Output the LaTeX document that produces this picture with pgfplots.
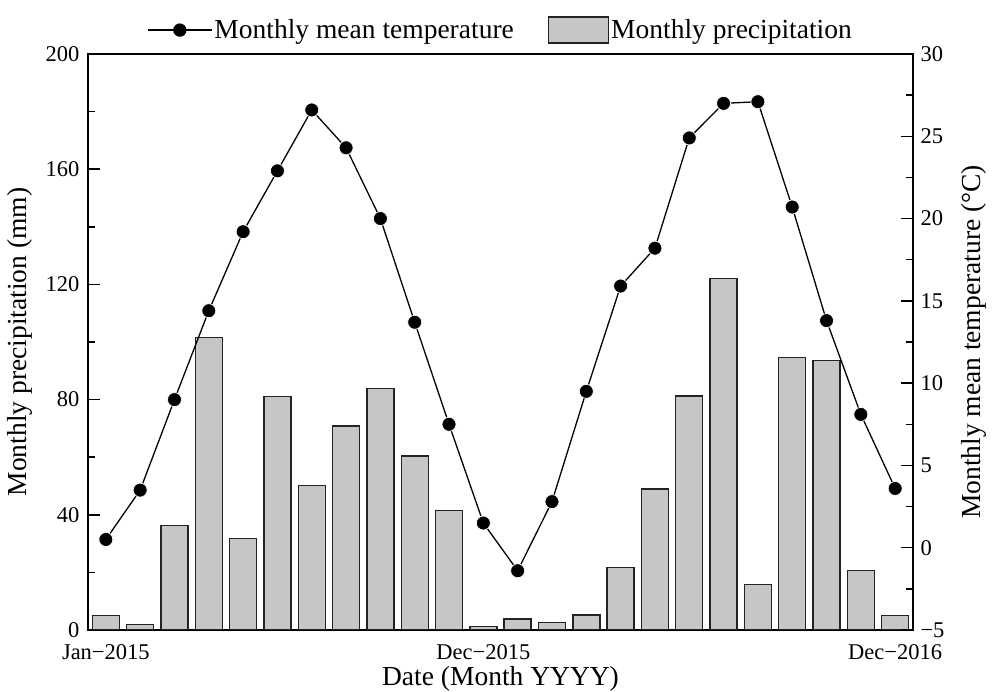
\documentclass[border=0pt]{standalone}
\usepackage{fontspec}
\setmainfont{Liberation Serif}
\usepackage{pgfplots}
\usepackage{pgfplotstable}
\pgfplotsset{compat=1.18}

\definecolor{barfill}{RGB}{198,198,198}
\definecolor{baredge}{RGB}{35,35,35}

% month index, precipitation (mm), mean temperature (deg C)
\pgfplotstableread{
m  prec   temp
0  5.1    0.5
1  1.9    3.5
2  36.2   9.0
3  101.6  14.4
4  31.8   19.2
5  81.0   22.9
6  50.1   26.6
7  70.9   24.3
8  83.8   20.0
9  60.4   13.7
10 41.4   7.5
11 1.3    1.5
12 3.8    -1.4
13 2.7    2.8
14 5.2    9.5
15 21.6   15.9
16 49.0   18.2
17 81.3   24.9
18 122.1  27.0
19 15.9   27.1
20 94.6   20.7
21 93.5   13.8
22 20.7   8.1
23 5.0    3.6
}\climate

\newcommand{\labelfont}{\fontsize{27.5}{31}\selectfont}
\newcommand{\tickfont}{\fontsize{22.5}{25}\selectfont}
\newcommand{\xtickfont}{\fontsize{22.5}{25}\selectfont}

\begin{document}
\begin{tikzpicture}
\pgfplotsset{
  base/.style={
    width=825pt, height=576pt, scale only axis,
    xmin=-0.52, xmax=23.52,
    axis line style={line width=1.6pt, black},
    major tick length=12pt, minor tick length=7pt,
    /pgf/number format/assume math mode=true,
    yticklabel style={font=\tickfont},
    xticklabel style={font=\xtickfont, yshift=-11pt},
    label style={font=\labelfont},
  }
}
% precipitation bars on the left axis
\begin{axis}[base, name=ax,
    ymin=0, ymax=200,
    ytick={0,40,...,200}, minor ytick={20,60,...,180},
    ytick pos=left,
    tick align=inside,
    ytick style={line width=1.5pt, black},
    yticklabel style={xshift=-5pt},
    xtick={0,11,23},
    xticklabels={Jan−2015, Dec−2015, Dec−2016},
    xtick pos=bottom,
    xtick style={draw=none},
    xlabel={Date (Month YYYY)},
    xlabel style={yshift=0pt},
    ylabel={Monthly precipitation (mm)},
    ylabel style={yshift=6pt},
]
\addplot[ybar, bar width=27pt, fill=barfill, draw=baredge, line width=1.4pt]
  table[x=m, y=prec] {\climate};
\end{axis}
% temperature line on the right axis
\begin{axis}[base,
    ymin=-5, ymax=30,
    axis y line*=right, axis x line=none,
    ytick={-5,0,...,30},
    yticklabels={−5,0,5,10,15,20,25,30},
    minor ytick={-2.5,2.5,...,27.5},
    tick align=inside,
    ytick style={line width=1.5pt, black},
    yticklabel style={xshift=4pt},
    ylabel={Monthly mean temperature (°C)},
    ylabel style={yshift=-10pt},
    legend columns=2,
    legend style={at={(0.5,1)}, anchor=south, yshift=10pt, draw=none, fill=none,
      font=\labelfont, inner sep=0pt,
      /tikz/every even column/.append style={column sep=32pt}},
]
\addplot[black, line width=1.3pt, mark=*, mark size=7pt,
  mark options={fill=black, draw=white, line width=0.7pt},
  legend image code/.code={
    \draw[black, line width=1.3pt] (0pt,0pt) -- (64pt,0pt);
    \fill[black] (32pt,0pt) circle (6pt);}]
  table[x=m, y=temp] {\climate};
\addlegendentry{Monthly mean temperature}
\addlegendimage{legend image code/.code={
    \draw[fill=barfill, draw=baredge, line width=1.4pt] (0pt,-13pt) rectangle (60pt,13pt);}}
\addlegendentry{Monthly precipitation}
\end{axis}
\pgfresetboundingbox
\path[use as bounding box] ([shift={(-88pt,-62pt)}]ax.south west)
  rectangle ([shift={(79pt,54pt)}]ax.north east);
\end{tikzpicture}
\end{document}
